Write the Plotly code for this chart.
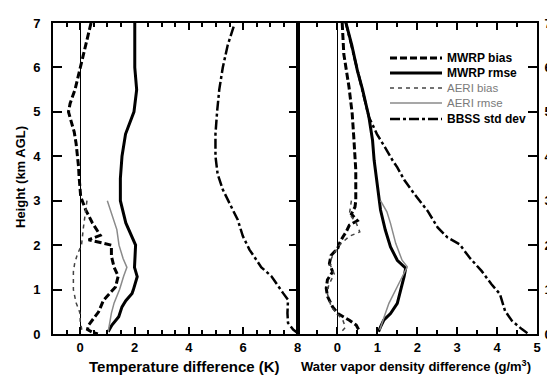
import plotly.graph_objects as go

# ---------------- data (height km AGL, difference values) ----------------
# Temperature panel (K)
T_mwrp_bias_h = [7.0, 6.5, 6.0, 5.67, 5.5, 5.19, 5.0, 4.74, 4.55, 4.29, 4.06, 3.77, 3.54, 3.31, 3.09, 2.8, 2.5, 2.22, 2.12, 2.0, 1.75, 1.5, 1.3, 1.06, 0.9, 0.76, 0.5, 0.31, 0.2, 0.1, 0.04, 0.0]
T_mwrp_bias = [0.40, 0.20, 0.00, -0.12, -0.19, -0.37, -0.43, -0.31, -0.22, -0.15, -0.10, -0.06, -0.04, 0.00, 0.02, 0.20, 0.45, 0.74, 0.31, 1.15, 1.15, 1.25, 1.40, 1.30, 1.05, 0.86, 0.68, 0.43, 0.31, 0.27, 0.45, 0.65]

T_mwrp_rmse_h = [7.0, 6.5, 6.0, 5.5, 5.0, 4.5, 4.0, 3.5, 3.0, 2.5, 2.0, 1.5, 1.29, 1.0, 0.91, 0.75, 0.61, 0.39, 0.2, 0.05]
T_mwrp_rmse = [2.01, 2.01, 2.01, 2.08, 1.98, 1.67, 1.54, 1.48, 1.48, 1.68, 2.04, 2.00, 2.10, 1.96, 1.91, 1.68, 1.54, 1.42, 1.17, 1.03]

T_aeri_bias_h = [3.0, 2.75, 2.4, 2.0, 1.8, 1.6, 1.4, 1.0, 0.7, 0.55, 0.45, 0.3, 0.1, 0.02]
T_aeri_bias = [0.25, 0.19, 0.12, 0.05, -0.10, -0.20, -0.25, -0.25, -0.15, -0.05, 0.00, 0.00, 0.06, 0.12]

T_aeri_rmse_h = [3.0, 2.7, 2.35, 2.0, 1.7, 1.5, 1.3, 1.0, 0.7, 0.47, 0.2, 0.05]
T_aeri_rmse = [1.00, 1.17, 1.35, 1.43, 1.58, 1.72, 1.60, 1.45, 1.25, 1.15, 1.09, 1.03]

T_bbss_h = [6.92, 6.5, 6.0, 5.5, 5.0, 4.5, 4.0, 3.6, 3.25, 2.87, 2.57, 2.2, 1.9, 1.5, 1.3, 0.92, 0.77, 0.47, 0.25, 0.1, 0.0]
T_bbss = [5.65, 5.43, 5.25, 5.12, 5.04, 4.98, 4.98, 5.06, 5.25, 5.56, 5.80, 5.99, 6.23, 6.67, 7.04, 7.47, 7.65, 7.63, 7.65, 7.84, 8.05]

# Water vapor density panel (g/m^3)
W_mwrp_bias_h = [7.0, 6.3, 5.56, 4.96, 4.43, 3.69, 3.0, 2.86, 2.7, 2.55, 2.45, 2.3, 2.19, 2.04, 1.93, 1.77, 1.59, 1.4, 1.22, 1.03, 0.85, 0.61, 0.46, 0.31, 0.2, 0.05]
W_mwrp_bias = [0.12, 0.16, 0.29, 0.37, 0.41, 0.46, 0.46, 0.44, 0.35, 0.50, 0.30, 0.22, 0.14, 0.05, 0.01, -0.16, -0.20, -0.12, -0.25, -0.28, -0.25, -0.12, 0.01, 0.30, 0.47, 0.56]

W_mwrp_rmse_h = [7.05, 6.5, 5.93, 5.5, 4.88, 4.36, 3.91, 3.31, 3.0, 2.79, 2.34, 1.96, 1.66, 1.48, 1.29, 0.99, 0.69, 0.46, 0.31, 0.16, 0.05]
W_mwrp_rmse = [0.20, 0.36, 0.50, 0.63, 0.79, 0.88, 0.92, 1.00, 1.04, 1.08, 1.20, 1.33, 1.50, 1.71, 1.67, 1.58, 1.50, 1.33, 1.16, 1.08, 1.03]

W_aeri_bias_h = [3.0, 2.7, 2.5, 2.3, 2.2, 2.0, 1.8, 1.6, 1.35, 1.1, 0.9, 0.6, 0.4, 0.3, 0.15, 0.05]
W_aeri_bias = [0.35, 0.30, 0.47, 0.56, 0.30, 0.05, -0.10, -0.20, -0.08, -0.22, -0.25, -0.15, 0.05, 0.14, 0.20, 0.10]

W_aeri_rmse_h = [3.0, 2.75, 2.49, 2.04, 1.66, 1.51, 1.21, 0.99, 0.69, 0.46, 0.24, 0.09]
W_aeri_rmse = [1.08, 1.24, 1.33, 1.46, 1.62, 1.75, 1.58, 1.46, 1.29, 1.20, 1.12, 1.06]

W_bbss_h = [7.05, 5.93, 4.88, 4.5, 4.36, 4.13, 3.91, 3.75, 3.46, 3.16, 2.77, 2.4, 2.17, 2.02, 1.72, 1.42, 1.12, 0.9, 0.52, 0.3, 0.11, 0.0]
W_bbss = [0.20, 0.50, 0.79, 0.99, 1.09, 1.24, 1.38, 1.50, 1.68, 1.92, 2.26, 2.51, 2.76, 3.06, 3.31, 3.61, 3.86, 4.07, 4.20, 4.37, 4.62, 4.79]

series_names = ["MWRP bias", "MWRP rmse", "AERI bias", "AERI rmse", "BBSS std dev"]
temp_ticks = [0, 2, 4, 6, 8]
wv_ticks = [0, 1, 2, 3, 4, 5]
height_ticks = [0, 1, 2, 3, 4, 5, 6, 7]

# ---------------- styles ----------------
styles = {
    "MWRP bias": dict(color="black", width=3, dash="7px,3px"),
    "MWRP rmse": dict(color="black", width=3, dash="solid"),
    "AERI bias": dict(color="#444444", width=1.5, dash="4px,4px"),
    "AERI rmse": dict(color="#8a8a8a", width=1.5, dash="solid"),
    "BBSS std dev": dict(color="black", width=2.5, dash="10px,3px,3px,3px"),
}
legend_text_color = {
    "MWRP bias": "black", "MWRP rmse": "black",
    "AERI bias": "#7a7a7a", "AERI rmse": "#7a7a7a",
    "BBSS std dev": "black",
}

temp_data = [(T_mwrp_bias, T_mwrp_bias_h), (T_mwrp_rmse, T_mwrp_rmse_h),
             (T_aeri_bias, T_aeri_bias_h), (T_aeri_rmse, T_aeri_rmse_h),
             (T_bbss, T_bbss_h)]
wv_data = [(W_mwrp_bias, W_mwrp_bias_h), (W_mwrp_rmse, W_mwrp_rmse_h),
           (W_aeri_bias, W_aeri_bias_h), (W_aeri_rmse, W_aeri_rmse_h),
           (W_bbss, W_bbss_h)]

fig = go.Figure()
for name, (xv, hv) in zip(series_names, temp_data):
    fig.add_trace(go.Scatter(x=xv, y=hv, mode="lines", name=name,
                             line=styles[name], xaxis="x", yaxis="y",
                             showlegend=False, hoverinfo="skip"))
for name, (xv, hv) in zip(series_names, wv_data):
    fig.add_trace(go.Scatter(x=xv, y=hv, mode="lines", name=name,
                             line=styles[name], xaxis="x2", yaxis="y2",
                             showlegend=False, hoverinfo="skip"))

W, H = 547, 375
ml, mr, mt, mb = 53, 10, 23, 41
pw = W - ml - mr
ph = H - mt - mb
split = (297.5 - ml) / pw


def px(xpix):
    return (xpix - ml) / pw


def py(ypix):
    return (H - mb - ypix) / ph


font_family = "Liberation Sans, Arial, sans-serif"
tickfont = dict(family=font_family, size=13, color="black", weight="bold")

common_x = dict(showgrid=False, ticks="inside", ticklen=7, tickwidth=1.5, tickcolor="black",
                showline=True, linecolor="black", linewidth=2, mirror="ticks",
                zeroline=True, zerolinecolor="black", zerolinewidth=1.2,
                tickfont=tickfont, fixedrange=True, automargin=False)
common_y = dict(showgrid=False, ticks="inside", ticklen=9, tickwidth=1.5, tickcolor="black",
                showline=True, linecolor="black", linewidth=2, zeroline=False,
                tickfont=tickfont, range=[0, 7], tickvals=height_ticks, fixedrange=True,
                automargin=False)

# manual legend (layout decoration)
shapes = []
annotations = []
legend_rows = [58, 73, 88, 103, 119]
for name, yrow in zip(series_names, legend_rows):
    st = styles[name]
    shapes.append(dict(type="line", xref="paper", yref="paper",
                       x0=px(390), x1=px(442), y0=py(yrow), y1=py(yrow),
                       line=dict(color=st["color"], width=st["width"], dash=st["dash"])))
    bold = legend_text_color[name] == "black"
    annotations.append(dict(text=name, xref="paper", yref="paper", x=px(445), y=py(yrow),
                            xanchor="left", yanchor="middle", showarrow=False,
                            font=dict(family=font_family, size=12 if bold else 11.5,
                                      color=legend_text_color[name],
                                      weight="bold" if bold else "normal")))

annotations += [
    dict(text="Temperature difference (K)", x=px(184), y=py(366), xref="paper", yref="paper",
         xanchor="center", yanchor="middle", showarrow=False,
         font=dict(family=font_family, size=15, color="black", weight="bold")),
    dict(text="Water vapor density difference (g/m<sup>3</sup>)", x=px(416), y=py(366),
         xref="paper", yref="paper", xanchor="center", yanchor="middle", showarrow=False,
         font=dict(family=font_family, size=13, color="black", weight="bold")),
    dict(text="Height (km AGL)", x=px(20), y=py(177), xref="paper", yref="paper",
         xanchor="center", yanchor="middle", textangle=-90, showarrow=False,
         font=dict(family=font_family, size=13, color="black", weight="bold")),
]

fig.update_layout(
    width=W, height=H,
    margin=dict(l=ml, r=mr, t=mt, b=mb, autoexpand=False),
    paper_bgcolor="white", plot_bgcolor="white",
    xaxis=dict(domain=[0, split], range=[-1, 8], tickvals=temp_ticks,
               minor=dict(dtick=0.5, tick0=0, ticklen=4, ticks="inside", tickcolor="black"),
               anchor="y", **common_x),
    xaxis2=dict(domain=[split, 1], range=[-1, 5], tickvals=wv_ticks,
                minor=dict(dtick=0.5, tick0=0, ticklen=4, ticks="inside", tickcolor="black"),
                anchor="y2", **common_x),
    yaxis=dict(anchor="x", mirror="ticks", ticklabelstandoff=8, **common_y),
    yaxis2=dict(anchor="x2", side="right", mirror=True, ticklabelstandoff=3, **common_y),
    showlegend=False,
    shapes=shapes,
    annotations=annotations,
)

fig.write_html("out.html")
